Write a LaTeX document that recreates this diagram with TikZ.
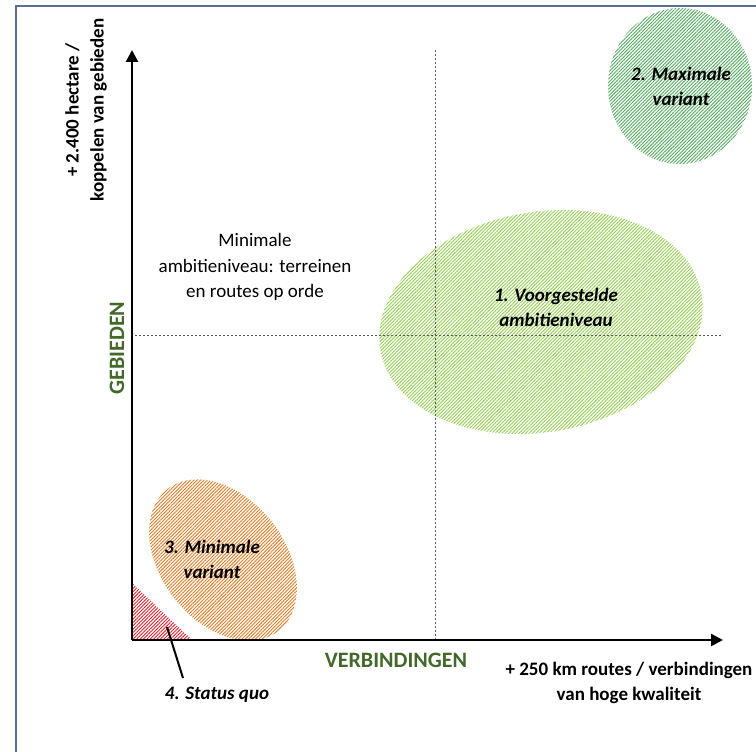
\documentclass[tikz,border=0pt]{standalone}
\usepackage{fontspec}
\setmainfont{Carlito}
\usetikzlibrary{arrows.meta,patterns.meta}
\definecolor{framec}{HTML}{5A6E96}
\definecolor{axisgreen}{HTML}{43692A}
\definecolor{lightg}{HTML}{96CF55}
\definecolor{darkg}{HTML}{52A85E}
\definecolor{orangec}{HTML}{E07B24}
\definecolor{redc}{HTML}{E5202E}
\tikzset{
  axisline/.style={line width=2.4pt,-{Triangle[width=12pt,length=12pt]}},
  guide/.style={line width=0.8pt,gray!70!black,dash pattern=on 2pt off 2pt},
  hatch/.style={pattern={Lines[angle=45,distance=2.4pt,line width=0.9pt]},pattern color=#1},
  lbl/.style={font=\fontsize{19}{25}\selectfont\bfseries\itshape,align=center,inner sep=0pt},
  plain/.style={font=\fontsize{19}{25.5}\selectfont,align=center,inner sep=0pt},
  axlbl/.style={font=\fontsize{19}{25}\selectfont\bfseries,align=center,inner sep=0pt},
  axname/.style={font=\fontsize{22}{26}\selectfont\bfseries,text=axisgreen,inner sep=0pt}
}
\begin{document}
\begin{tikzpicture}[x=1pt,y=1pt]
\useasboundingbox (0,0) rectangle (756,-752);
\fill[white] (0,0) rectangle (756,-752);
% frame
\draw[framec,line width=1.3pt] (16,-752) -- (16,-6) -- (756,-6);
% hatched areas
\fill[hatch=lightg,rotate around={10:(541,-322)}] (541,-322) ellipse [x radius=163,y radius=110];
\fill[hatch=darkg] (680,-86) ellipse [x radius=72,y radius=78];
\fill[hatch=orangec,rotate around={-52:(223,-560)}] (223,-560) ellipse [x radius=90,y radius=62];
\fill[hatch=redc] (132,-583) -- (132,-640) -- (192,-640) -- cycle;
% guides
\coordinate (vtop) at (435,-50);
\coordinate (vbot) at (435,-640);
\coordinate (hl) at (135,-335);
\coordinate (hr) at (722,-335);
\draw[guide] (vtop) -- (vbot);
\draw[guide] (hl) -- (hr);
% axes
\coordinate (origin) at (132,-640);
\coordinate (ytip) at (132,-50);
\coordinate (xtip) at (723,-640);
\draw[axisline] (origin) -- (ytip);
\draw[axisline] (origin) -- (xtip);
% labels
\node[lbl] (v1) at (556,-307) {1. Voorgestelde\\ambitieniveau};
\node[lbl] (v2) at (681,-86) {2. Maximale\\variant};
\node[lbl] (v3) at (212,-559) {3. Minimale\\variant};
\node[lbl] (v4) at (217,-695) {4. Status quo};
\coordinate (sqin) at (167,-627);
\coordinate (sqout) at (183,-678);
\draw[line width=2pt] (sqin) -- (sqout);
\node[plain] (minamb) at (255,-267) {Minimale\\ambitieniveau: terreinen\\en routes op orde};
\node[axname] (verb) at (396,-660) {VERBINDINGEN};
\node[axname,rotate=90] (geb) at (117,-348) {GEBIEDEN};
\node[axlbl] (xlab) at (629,-683) {+ 250 km routes / verbindingen\\van hoge kwaliteit};
\node[axlbl,rotate=90] (ylab) at (86,-110) {+ 2.400 hectare /\\koppelen van gebieden};
\end{tikzpicture}
\end{document}
